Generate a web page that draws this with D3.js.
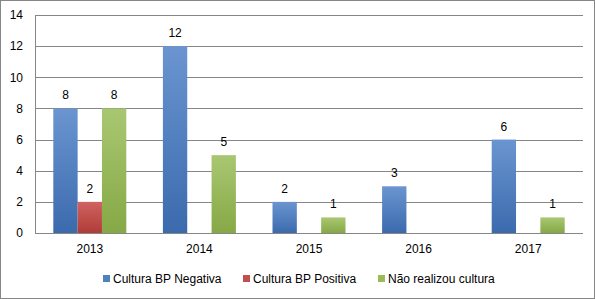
<!DOCTYPE html>
<html>
<head>
<meta charset="utf-8">
<script src="https://cdn.jsdelivr.net/npm/d3@7"></script>
<style>
  body { margin: 0; background: #fff; }
  text { font-family: "Liberation Sans", Arial, sans-serif; fill: #000; }
</style>
</head>
<body>
<div id="chart"></div>
<script>
// data
var years = ["2013", "2014", "2015", "2016", "2017"];
var negativa = [8, 12, 2, 3, 6];
var positiva = [2, 0, 0, 0, 0];
var naoRealizou = [8, 5, 1, 0, 1];
var seriesNames = ["Cultura BP Negativa", "Cultura BP Positiva", "Não realizou cultura"];
var yTicks = [0, 2, 4, 6, 8, 10, 12, 14];

var colors = [
  {top: "#6a95d0", bottom: "#3b6aad", key: "#4f81bd"},
  {top: "#d0625f", bottom: "#b03c39", key: "#c0504d"},
  {top: "#a9c772", bottom: "#86a845", key: "#9bbb59"}
];

var W = 595, H = 299;
var margin = {top: 15, right: 12, bottom: 66, left: 35},
    width = W - margin.left - margin.right,
    height = H - margin.top - margin.bottom;

var svg = d3.select("#chart").append("svg")
    .attr("width", W)
    .attr("height", H);

// outer border
svg.append("rect")
    .attr("x", 0.5).attr("y", 0.5)
    .attr("width", W - 1).attr("height", H - 1)
    .attr("fill", "#fff")
    .attr("stroke", "#868686");

var defs = svg.append("defs");
colors.forEach(function(c, i) {
  var g = defs.append("linearGradient")
      .attr("id", "grad" + i)
      .attr("x1", 0).attr("y1", 0).attr("x2", 0).attr("y2", 1);
  g.append("stop").attr("offset", "0%").attr("stop-color", c.top);
  g.append("stop").attr("offset", "100%").attr("stop-color", c.bottom);
});

var g = svg.append("g")
    .attr("transform", "translate(" + margin.left + "," + margin.top + ")");

var x = d3.scaleBand()
    .domain(years)
    .range([0, width])
    .paddingInner(0.334)
    .paddingOuter(0.167);

var x1 = d3.scaleBand()
    .domain(d3.range(3))
    .range([0, x.bandwidth()]);

var y = d3.scaleLinear()
    .domain([0, 14])
    .range([height, 0]);

// gridlines
g.append("g")
  .selectAll("line")
  .data(yTicks)
  .enter()
  .append("line")
    .attr("x1", 0)
    .attr("x2", width)
    .attr("y1", function(d) { return Math.round(y(d)) + 0.5; })
    .attr("y2", function(d) { return Math.round(y(d)) + 0.5; })
    .attr("stroke", "#868686");

// y axis
var yAxis = g.append("g")
    .call(d3.axisLeft(y).tickValues(yTicks).tickSize(0).tickPadding(12));
yAxis.select(".domain").attr("stroke", "#868686");
yAxis.selectAll("text").style("font-size", "12px").attr("font-family", null);

// x axis
var xAxis = g.append("g")
    .attr("transform", "translate(0," + height + ")")
    .call(d3.axisBottom(x).tickSize(0).tickPadding(11));
xAxis.select(".domain").remove();
xAxis.selectAll("text").style("font-size", "12px").attr("font-family", null);

var allSeries = [negativa, positiva, naoRealizou];
var rows = [];
years.forEach(function(yr, i) {
  allSeries.forEach(function(s, k) {
    rows.push({year: yr, k: k, value: s[i]});
  });
});

var bars = rows.filter(function(d) { return d.value > 0; });

g.selectAll("rect.bar")
  .data(bars)
  .enter()
  .append("rect")
    .attr("class", "bar")
    .attr("x", function(d) { return x(d.year) + x1(d.k); })
    .attr("y", function(d) { return y(d.value); })
    .attr("width", x1.bandwidth())
    .attr("height", function(d) { return height - y(d.value); })
    .attr("fill", function(d) { return "url(#grad" + d.k + ")"; });

// value labels
g.selectAll("text.lbl")
  .data(bars)
  .enter()
  .append("text")
    .attr("class", "lbl")
    .attr("x", function(d) { return x(d.year) + x1(d.k) + x1.bandwidth() / 2; })
    .attr("y", function(d) { return y(d.value) - 9; })
    .attr("text-anchor", "middle")
    .style("font-size", "12px")
    .text(function(d) { return d.value; });

// legend
var legendX = [103, 243, 378];
var legend = svg.append("g");
seriesNames.forEach(function(name, i) {
  legend.append("rect")
      .attr("x", legendX[i]).attr("y", 275)
      .attr("width", 7).attr("height", 7)
      .attr("fill", colors[i].key);
  legend.append("text")
      .attr("x", legendX[i] + 10).attr("y", 283)
      .style("font-size", "12px")
      .text(name);
});
</script>
</body>
</html>
